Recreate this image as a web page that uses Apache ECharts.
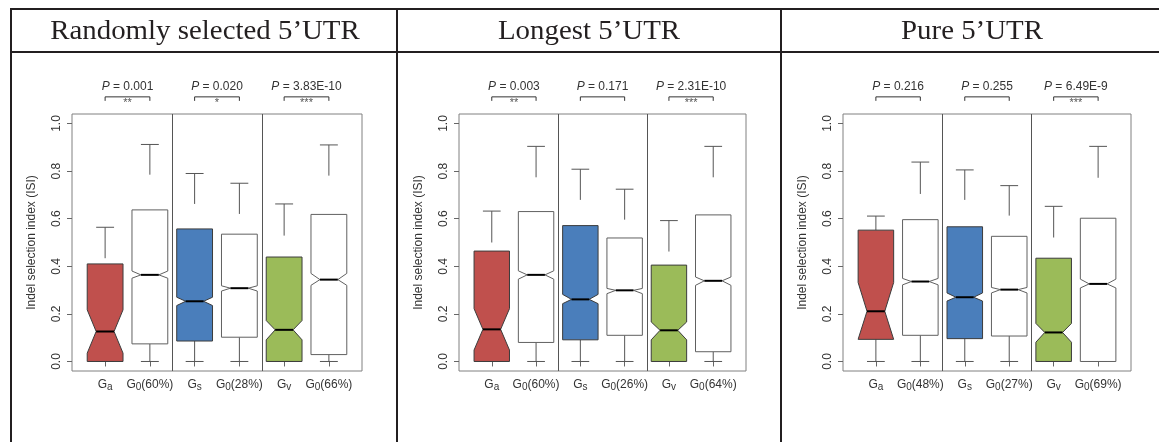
<!DOCTYPE html>
<html><head><meta charset="utf-8">
<script src="https://cdn.jsdelivr.net/npm/echarts@6/dist/echarts.min.js"></script>
<style>html,body{margin:0;padding:0;background:#fff}#c{width:1159px;height:442px}</style>
</head><body><div id="c"></div>
<script>
// ---------------- data ----------------
const panelTitles = ['Randomly selected 5\u2019UTR', 'Longest 5\u2019UTR', 'Pure 5\u2019UTR'];
const categories1 = ['Ga', 'G0(60%)', 'Gs', 'G0(28%)', 'Gv', 'G0(66%)'];
const categories2 = ['Ga', 'G0(60%)', 'Gs', 'G0(26%)', 'Gv', 'G0(64%)'];
const categories3 = ['Ga', 'G0(48%)', 'Gs', 'G0(27%)', 'Gv', 'G0(69%)'];
const boxPositions = [1, 2, 3, 4, 5, 6];
const groupBreaks = [2.5, 4.5];
const yTicks = [0, 0.2, 0.4, 0.6, 0.8, 1.0];
// each row: [lowerWhiskerEnd, Q1, notchLow, median, notchHigh, Q3, upperWhiskerStart, upperWhiskerEnd]
const randomUTR = [
  [0.000, 0.000, 0.035, 0.126, 0.217, 0.410, 0.434, 0.564],
  [0.000, 0.074, 0.350, 0.364, 0.380, 0.637, 0.785, 0.912],
  [0.000, 0.086, 0.235, 0.253, 0.270, 0.557, 0.662, 0.790],
  [0.000, 0.102, 0.296, 0.308, 0.318, 0.535, 0.620, 0.749],
  [0.000, 0.000, 0.091, 0.133, 0.172, 0.439, 0.529, 0.662],
  [0.000, 0.029, 0.320, 0.344, 0.370, 0.618, 0.781, 0.910]
];
const longestUTR = [
  [0.000, 0.000, 0.048, 0.135, 0.222, 0.464, 0.500, 0.632],
  [0.000, 0.080, 0.346, 0.364, 0.381, 0.630, 0.774, 0.904],
  [0.000, 0.091, 0.243, 0.261, 0.282, 0.571, 0.679, 0.808],
  [0.000, 0.110, 0.285, 0.299, 0.307, 0.519, 0.596, 0.724],
  [0.000, 0.000, 0.091, 0.131, 0.166, 0.405, 0.462, 0.592],
  [0.000, 0.041, 0.320, 0.339, 0.355, 0.616, 0.774, 0.904]
];
const pureUTR = [
  [0.000, 0.093, 0.093, 0.211, 0.332, 0.552, 0.552, 0.611],
  [0.000, 0.110, 0.322, 0.336, 0.349, 0.596, 0.704, 0.838],
  [0.000, 0.096, 0.254, 0.270, 0.288, 0.566, 0.679, 0.805],
  [0.000, 0.107, 0.288, 0.302, 0.311, 0.526, 0.613, 0.739],
  [0.000, 0.000, 0.081, 0.122, 0.160, 0.434, 0.521, 0.652],
  [0.000, 0.000, 0.309, 0.326, 0.346, 0.602, 0.772, 0.904]
];
const pairs = [[1, 2], [3, 4], [5, 6]];
const pValues1 = ['0.001', '0.020', '3.83E-10'];
const pValues2 = ['0.003', '0.171', '2.31E-10'];
const pValues3 = ['0.216', '0.255', '6.49E-9'];
const stars1 = ['**', '*', '***'];
const stars2 = ['**', '', '***'];
const stars3 = ['', '', '***'];

// ---------------- styling ----------------
const boxFills = ['#c0504d', '#ffffff', '#4a7ebb', '#ffffff', '#9bbb59', '#ffffff'];
const boxEdges = ['#3c3c3c', '#606060', '#3c3c3c', '#606060', '#3c3c3c', '#606060'];
const FONT = 'Liberation Sans, Arial, sans-serif';
const panels = [
  { data: randomUTR, cats: categories1, p: pValues1, s: stars1, left: 72, width: 290 },
  { data: longestUTR, cats: categories2, p: pValues2, s: stars2, left: 459, width: 287 },
  { data: pureUTR, cats: categories3, p: pValues3, s: stars3, left: 843, width: 288 }
];
const bracketLevel = 1.112;

function catLabel(name) {
  return '{g|' + name.charAt(0) + '}{s|' + name.charAt(1) + '}' + (name.length > 2 ? '{g|' + name.slice(2) + '}' : '');
}

function renderBox(params, api) {
  const x = api.value(0);
  const lowCap = api.value(1), q1 = api.value(2), nLo = api.value(3), med = api.value(4),
        nHi = api.value(5), q3 = api.value(6), hiStart = api.value(7), hiCap = api.value(8);
  const w = 0.4, cw = 0.2;
  const P = (a, b) => api.coord([a, b]);
  const i = params.dataIndex;
  const pts = [P(x - w, q1), P(x - w, nLo), P(x - w / 2, med), P(x - w, nHi), P(x - w, q3),
               P(x + w, q3), P(x + w, nHi), P(x + w / 2, med), P(x + w, nLo), P(x + w, q1)];
  const wl = { stroke: '#555', lineWidth: 1 };
  const children = [
    { type: 'line', shape: { x1: P(x, hiStart)[0], y1: P(x, hiStart)[1], x2: P(x, hiCap)[0], y2: P(x, hiCap)[1] }, style: wl },
    { type: 'line', shape: { x1: P(x - cw, hiCap)[0], y1: P(x, hiCap)[1], x2: P(x + cw, hiCap)[0], y2: P(x, hiCap)[1] }, style: wl },
    { type: 'line', shape: { x1: P(x, lowCap)[0], y1: P(x, lowCap)[1], x2: P(x, q1)[0], y2: P(x, q1)[1] }, style: wl },
    { type: 'line', shape: { x1: P(x - cw, lowCap)[0], y1: P(x, lowCap)[1], x2: P(x + cw, lowCap)[0], y2: P(x, lowCap)[1] }, style: wl },
    { type: 'polygon', shape: { points: pts }, style: { fill: boxFills[i], stroke: boxEdges[i], lineWidth: 1 } },
    { type: 'line', shape: { x1: P(x - w / 2, med)[0], y1: P(x, med)[1], x2: P(x + w / 2, med)[0], y2: P(x, med)[1] }, style: { stroke: '#000', lineWidth: 2 } }
  ];
  return { type: 'group', children: children };
}

function makeBracketRenderer(pv, st) {
  return function (params, api) {
    const i = params.dataIndex;
    const a = api.coord([api.value(0), api.value(2)]);
    const b = api.coord([api.value(1), api.value(2)]);
    const mx = (a[0] + b[0]) / 2;
    const ch = [
      { type: 'polyline', shape: { points: [[a[0], a[1] + 4], [a[0], a[1]], [b[0], b[1]], [b[0], b[1] + 4]] }, style: { stroke: '#333', lineWidth: 1, fill: null } },
      { type: 'text', x: mx, y: a[1] - 10, style: { text: '{i|P}{n| = ' + pv[i] + '}', align: 'center', verticalAlign: 'middle',
        rich: { i: { fontStyle: 'italic', fontSize: 12, fontFamily: FONT, fill: '#333' }, n: { fontSize: 12, fontFamily: FONT, fill: '#333' } } } }
    ];
    if (st[i]) ch.push({ type: 'text', x: mx, y: a[1] + 6, style: { text: st[i], align: 'center', verticalAlign: 'middle', fontSize: 11, fontFamily: FONT, fill: '#555' } });
    return { type: 'group', children: ch };
  };
}

const grids = [], xAxes = [], yAxes = [], series = [];
panels.forEach((pn, k) => {
  grids.push({ left: pn.left, top: 114, width: pn.width, height: 257, show: true, borderColor: '#808080', borderWidth: 1, backgroundColor: 'transparent' });
  xAxes.push({
    type: 'value', gridIndex: k, min: 0.26, max: 6.74,
    axisLine: { show: false }, splitLine: { show: false },
    axisTick: { show: true, customValues: boxPositions, length: 5, lineStyle: { color: '#666' } },
    axisLabel: { customValues: boxPositions, margin: 7, color: '#333', fontFamily: FONT, fontSize: 12,
      formatter: v => catLabel(pn.cats[Math.round(v) - 1]),
      rich: { g: { fontSize: 12, fontFamily: FONT, color: '#333', lineHeight: 14 },
              s: { fontSize: 10, fontFamily: FONT, color: '#333', lineHeight: 14, verticalAlign: 'bottom', padding: [2, 0, 0, 0] } } }
  });
  yAxes.push({
    type: 'value', gridIndex: k, min: -0.04, max: 1.04,
    axisLine: { show: false }, splitLine: { show: false },
    axisTick: { show: true, customValues: yTicks, length: 5, lineStyle: { color: '#666' } },
    axisLabel: { customValues: yTicks, rotate: 90, margin: 9, color: '#333', fontFamily: FONT, fontSize: 12, formatter: v => v.toFixed(1) },
    name: 'Indel selection index (ISI)', nameLocation: 'middle', nameGap: 34,
    nameTextStyle: { color: '#333', fontFamily: FONT, fontSize: 12 }
  });
  series.push({
    type: 'custom', xAxisIndex: k, yAxisIndex: k, renderItem: renderBox, silent: true,
    data: pn.data.map((r, i) => [boxPositions[i]].concat(r)),
    markLine: { silent: true, symbol: 'none', label: { show: false }, animation: false,
      lineStyle: { color: '#555', type: 'solid', width: 1 },
      data: groupBreaks.map(b => ({ xAxis: b })) }
  });
  series.push({
    type: 'custom', xAxisIndex: k, yAxisIndex: k, silent: true, clip: false,
    renderItem: makeBracketRenderer(pn.p, pn.s),
    data: pairs.map(pr => [pr[0], pr[1], bracketLevel])
  });
});

const lineStyle = { stroke: '#231f20', lineWidth: 2 };
const graphic = [
  { type: 'line', shape: { x1: 10, y1: 9, x2: 1159, y2: 9 }, style: lineStyle },
  { type: 'line', shape: { x1: 10, y1: 52, x2: 1159, y2: 52 }, style: lineStyle },
  { type: 'line', shape: { x1: 11, y1: 8, x2: 11, y2: 442 }, style: lineStyle },
  { type: 'line', shape: { x1: 397, y1: 8, x2: 397, y2: 442 }, style: lineStyle },
  { type: 'line', shape: { x1: 781, y1: 8, x2: 781, y2: 442 }, style: lineStyle }
];
const titleCenters = [205, 589, 972];
panelTitles.forEach((t, k) => graphic.push({ type: 'text', x: titleCenters[k], y: 32, scaleX: 1.05,
  style: { text: t, align: 'center', verticalAlign: 'middle', fontSize: 27.5, fontFamily: 'Liberation Serif, Times New Roman, serif', fill: '#231f20' } }));

const chart = echarts.init(document.getElementById('c'), null, { renderer: 'canvas' });
chart.setOption({ animation: false, grid: grids, xAxis: xAxes, yAxis: yAxes, series: series, graphic: graphic });
</script></body></html>
